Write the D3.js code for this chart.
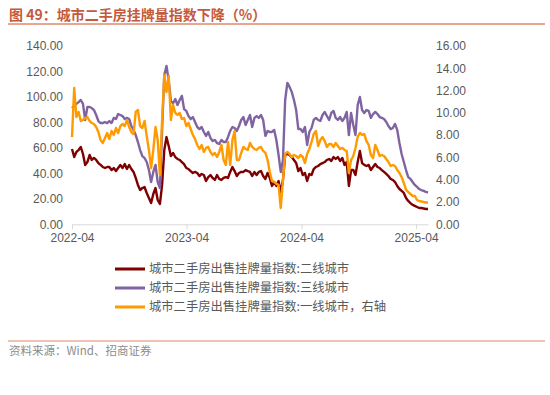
<!DOCTYPE html>
<html>
<head>
<meta charset="utf-8">
<script src="https://cdn.jsdelivr.net/npm/d3@7"></script>
<style>
  html, body { margin: 0; padding: 0; background: #fff; }
  svg { display: block; }
</style>
</head>
<body>
<svg id="chart" width="550" height="395"></svg>
<script>
// ---- Data (weekly index values) ----
const startDate = "2022-04-01";          // first weekly observation
const xTickLabels = ["2022-04", "2023-04", "2024-04", "2025-04"];
const leftTicks = [0, 20, 40, 60, 80, 100, 120, 140];
const rightTicks = [0, 2, 4, 6, 8, 10, 12, 14, 16];

const seriesNames = [
  "城市二手房出售挂牌量指数:二线城市",
  "城市二手房出售挂牌量指数:三线城市",
  "城市二手房出售挂牌量指数:一线城市，右轴"
];

// 二线城市 (left axis)
const tier2 = [59.1,52.8,56.8,58.3,60.7,55.2,46.6,48.9,54.4,50.5,52.1,50.5,48.1,46.6,45.0,44.2,45.0,45.0,42.6,44.2,
41.8,44.2,46.6,44.2,47.3,43.4,46.6,43.4,41.1,36.4,30.9,26.9,28.5,29.3,24.6,20.7,16.7,23.8,28.5,19.1,
15.9,30.9,58.3,68.5,61.5,53.6,56.0,52.8,51.3,50.5,48.9,47.3,44.2,43.4,41.8,40.3,41.1,40.3,37.9,39.5,
38.7,34.0,37.1,38.7,36.4,34.8,38.7,35.6,34.8,36.4,37.1,36.4,41.1,45.0,41.8,37.9,40.3,41.1,41.1,42.6,
41.8,41.1,37.9,41.1,38.7,41.1,41.8,37.9,35.6,40.3,36.4,30.1,33.2,30.1,34.0,25.4,34.8,54.4,55.2,54.4,
52.8,50.5,48.1,41.8,44.2,38.7,40.3,34.0,39.5,38.7,43.4,45.0,45.8,47.3,48.1,48.9,50.5,51.3,49.7,52.8,
51.3,52.8,49.7,52.1,46.6,48.9,30.1,42.6,42.6,38.7,48.9,57.6,48.1,46.6,45.8,46.6,42.6,45.0,47.3,45.0,
44.2,42.6,41.1,39.5,37.9,35.6,34.8,33.2,30.1,27.7,26.2,24.6,20.7,18.3,16.7,15.2,14.4,13.6,12.8,12.8,
12.4,12.0,12.0];

// 三线城市 (left axis)
const tier3 = [91.3,92.9,94.5,96.0,97.6,94.5,81.9,92.1,92.1,91.3,89.7,85.8,81.1,79.5,79.5,80.3,79.5,81.1,79.5,83.5,
82.7,86.6,85.8,85.0,82.7,83.5,82.7,77.2,74.1,70.1,64.6,58.3,53.6,52.1,48.9,42.6,33.2,41.1,46.6,33.2,
28.5,74.1,117.4,124.3,113.3,96.8,95.2,98.4,93.7,97.6,100.8,90.5,89.0,85.0,82.7,84.2,80.3,76.4,74.8,76.4,
72.5,69.4,72.5,67.8,65.4,66.2,63.8,63.1,66.2,64.6,64.6,68.6,73.3,76.4,75.6,73.3,77.2,81.9,84.2,78.0,
81.9,85.8,76.4,83.5,85.0,83.5,85.8,81.9,69.4,73.3,72.5,72.5,74.1,66.2,54.4,41.1,50.5,97.6,111.0,107.9,
103.9,97.6,89.7,74.8,74.8,72.5,76.4,62.3,72.5,75.6,81.9,83.5,81.9,81.1,85.8,88.2,85.0,81.9,87.4,89.0,
83.5,81.9,84.2,81.1,83.5,88.2,70.1,87.4,78.0,70.1,93.7,100.0,89.7,87.4,89.7,89.0,83.5,86.6,88.2,86.6,
84.2,83.5,82.7,80.3,77.2,74.8,75.6,78.8,74.1,63.8,55.2,48.9,42.6,37.1,35.6,33.2,30.9,29.3,27.7,26.9,
26.2,25.4,25.0];

// 一线城市 (right axis)
const tier1 = [7.83,12.23,9.63,10.08,9.27,9.36,9.54,9.63,9.27,9.09,9.00,8.73,8.28,7.56,7.30,7.74,8.19,7.65,8.37,8.02,
8.64,8.19,8.82,9.00,8.82,9.36,8.73,8.28,8.10,10.08,10.26,8.82,8.64,9.27,7.93,6.67,5.05,6.67,8.73,7.56,
4.42,9.36,13.40,11.87,13.31,9.36,10.71,9.99,9.81,9.99,9.45,9.54,8.82,9.09,8.55,8.02,7.65,7.12,6.76,7.12,
6.49,6.85,6.94,6.49,6.22,6.40,6.04,6.49,7.12,5.77,5.32,7.39,5.32,7.56,8.37,5.77,5.77,6.40,6.94,6.76,
6.67,7.30,6.94,6.76,6.67,6.85,6.94,6.58,6.40,5.77,4.69,3.89,3.80,3.62,3.53,1.46,3.98,6.31,6.49,6.31,
6.04,6.22,6.13,5.95,6.22,6.04,5.50,6.31,6.76,7.39,8.10,8.37,7.03,7.56,7.83,7.47,6.94,7.21,7.21,6.94,
7.30,7.03,6.76,6.85,6.67,6.58,4.60,5.77,6.13,6.85,7.83,8.19,8.02,8.10,7.47,7.12,6.22,5.95,7.12,6.67,
6.13,6.22,6.13,5.86,5.59,5.23,5.32,5.23,4.87,4.60,4.24,3.71,3.08,2.90,2.72,2.54,2.54,2.18,2.09,2.05,
2.00,1.96,1.96];

const colors = ["#7f0000", "#8064a2", "#ff9a00"];

// ---- Drawing ----
const svg = d3.select("#chart");
const parse = d3.timeParse("%Y-%m-%d");
const parseMonth = d3.timeParse("%Y-%m");
const t0 = parse(startDate);
const dates = tier2.map((_, i) => d3.timeDay.offset(t0, 7 * i));

const plot = { left: 72, right: 428, top: 46, bottom: 224.3 };

const x = d3.scaleTime()
  .domain([dates[0], dates[dates.length - 1]])
  .range([plot.left, plot.right]);
const yL = d3.scaleLinear().domain([0, 140]).range([plot.bottom, plot.top]);
const yR = d3.scaleLinear().domain([0, 16]).range([plot.bottom, plot.top]);

const fontLatin = "'Liberation Sans', Arial, sans-serif";
const fontCJK = "'Noto Sans CJK SC', 'Noto Sans', sans-serif";
const textColor = "#595959";

// Title
svg.append("text")
  .attr("x", 9).attr("y", 20)
  .attr("font-family", fontCJK)
  .attr("font-size", 14).attr("font-weight", "bold")
  .attr("fill", "#c45a3c")
  .text("图 49：城市二手房挂牌量指数下降（%）");
svg.append("line")
  .attr("x1", 8).attr("x2", 545).attr("y1", 24).attr("y2", 24)
  .attr("stroke", "#e0876a").attr("stroke-width", 1.5);

// X axis
const xAxis = d3.axisBottom(x)
  .tickValues(xTickLabels.map(parseMonth))
  .tickFormat(d3.timeFormat("%Y-%m"))
  .tickSize(5).tickSizeOuter(0);
const gx = svg.append("g")
  .attr("transform", `translate(0,${plot.bottom})`)
  .call(xAxis);
gx.select(".domain").attr("stroke", "#d9d9d9");
gx.selectAll(".tick line").attr("stroke", "#d9d9d9");
gx.selectAll(".tick text")
  .attr("font-family", fontLatin).attr("font-size", 12)
  .attr("fill", textColor).attr("dy", "0.85em");

// Left axis
const gl = svg.append("g")
  .attr("transform", `translate(${plot.left - 9},0)`)
  .call(d3.axisLeft(yL).tickValues(leftTicks).tickFormat(d3.format(".2f")).tickSize(0).tickPadding(0));
gl.select(".domain").remove();
gl.selectAll(".tick text")
  .attr("font-family", fontLatin).attr("font-size", 12).attr("fill", textColor);

// Right axis
const gr = svg.append("g")
  .attr("transform", `translate(436,0)`)
  .call(d3.axisRight(yR).tickValues(rightTicks).tickFormat(d3.format(".2f")).tickSize(0).tickPadding(0));
gr.select(".domain").remove();
gr.selectAll(".tick text")
  .attr("font-family", fontLatin).attr("font-size", 12).attr("fill", textColor);

// Lines
const lineL = d3.line().x((d, i) => x(dates[i])).y(d => yL(d));
const lineR = d3.line().x((d, i) => x(dates[i])).y(d => yR(d));

svg.append("path").datum(tier2)
  .attr("d", lineL).attr("fill", "none")
  .attr("stroke", colors[0]).attr("stroke-width", 2.4).attr("stroke-linejoin", "round");
svg.append("path").datum(tier3)
  .attr("d", lineL).attr("fill", "none")
  .attr("stroke", colors[1]).attr("stroke-width", 2.4).attr("stroke-linejoin", "round");
svg.append("path").datum(tier1)
  .attr("d", lineR).attr("fill", "none")
  .attr("stroke", colors[2]).attr("stroke-width", 2.4).attr("stroke-linejoin", "round");

// Legend
const legendY = [269, 288, 307];
seriesNames.forEach((name, i) => {
  svg.append("line")
    .attr("x1", 115).attr("x2", 145)
    .attr("y1", legendY[i]).attr("y2", legendY[i])
    .attr("stroke", colors[i]).attr("stroke-width", 3);
  svg.append("text")
    .attr("x", 149).attr("y", legendY[i])
    .attr("dy", "0.35em")
    .attr("font-family", fontCJK).attr("font-size", 12.3)
    .attr("fill", textColor)
    .text(name);
});

// Footer
svg.append("line")
  .attr("x1", 8).attr("x2", 545).attr("y1", 341).attr("y2", 341)
  .attr("stroke", "#e0876a").attr("stroke-width", 1.2);
svg.append("text")
  .attr("x", 9).attr("y", 355)
  .attr("font-family", fontCJK).attr("font-size", 11.5)
  .attr("fill", "#8c8c8c")
  .text("资料来源：Wind、招商证券");
</script>
</body>
</html>
